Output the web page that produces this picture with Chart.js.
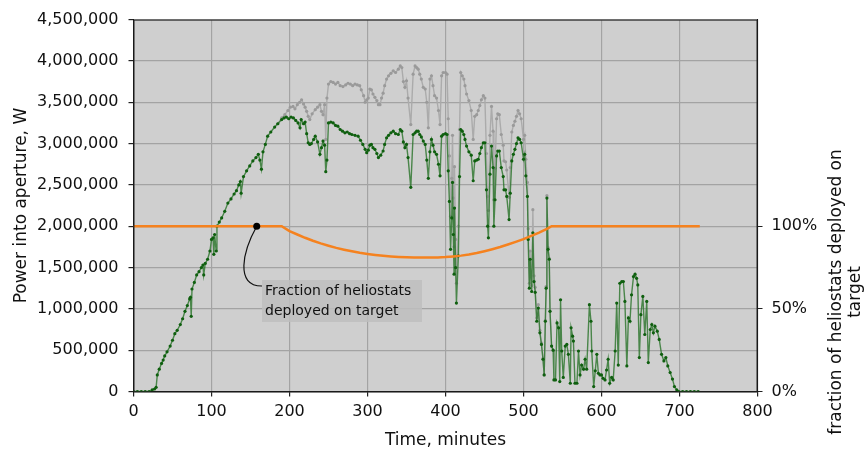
<!DOCTYPE html>
<html>
<head>
<meta charset="utf-8">
<script src="https://cdn.jsdelivr.net/npm/chart.js@4.4.1/dist/chart.umd.min.js"></script>
<style>
  html, body { margin: 0; padding: 0; background: #fff; }
  #wrap { width: 865px; height: 456px; }
</style>
</head>
<body>
<div id="wrap"><canvas id="chart" width="865" height="456"></canvas></div>
<script>
// Power into aperture (MW) with all heliostats deployed on target, by time (minutes)
const greenTime = [
  0, 5, 10, 15, 20, 24, 27, 29, 30.5, 33,
  36, 38, 40, 43, 47, 50, 53, 56, 60, 63,
  66, 69, 72, 73, 74, 75, 78, 81, 84, 87,
  89, 90, 92, 95, 98, 100, 102, 103, 104, 106,
  107, 110, 113, 117, 121, 125, 129, 132, 135, 137,
  138, 141, 145, 149, 153, 157, 160, 162, 164, 166,
  169, 172, 176, 181, 185, 190, 193, 196, 199, 202,
  205, 208, 211, 213.5, 215, 218, 220, 222, 224, 226,
  228, 231, 233, 236, 239, 241, 243, 245, 246.5, 248,
  250, 253, 256, 259, 262, 265, 268, 271, 274, 277,
  280, 284, 288, 291, 294, 297, 299, 301, 303, 305,
  307, 309.5, 312, 314, 317, 320, 322, 324.5, 327, 330,
  333, 336, 339.5, 342, 344, 346, 348, 350, 352, 355.5,
  358.5, 361, 363, 365, 367, 369, 371.5, 374, 376, 378,
  380, 382, 384, 386, 388.5, 391, 393, 395, 397, 400,
  402, 403.5, 405, 406.5, 408, 409, 410, 411, 411.5, 413,
  414, 416.5, 418, 419.5, 421.5, 423.5, 425, 427, 430, 433,
  435.5, 437.5, 440, 442, 444, 446, 448.5, 450.5, 452.5, 454,
  455, 457, 459, 461, 462, 463.5, 465.5, 467, 469, 471.5,
  474, 475, 477, 478.5, 481.5, 483, 485, 487, 489, 491,
  493, 495, 497, 500, 501.5, 503, 505, 506, 507.5, 508.5,
  510.5, 512, 513.5, 515, 517, 519, 521, 523, 525, 526.5,
  528, 529, 530, 531.5, 533, 534, 536, 538, 539, 541,
  543, 545, 546.5, 547.5, 549, 551, 553.5, 555.5, 557.5, 560,
  561, 563, 564, 566, 568.5, 570.5, 572.5, 574.5, 577, 579,
  581, 584.5, 586.5, 587.5, 590, 592, 594, 596, 598, 600,
  602, 604.5, 606.5, 608.5, 610.5, 613, 615, 617.5, 619.5, 621.5,
  623.5, 626, 628, 630, 632.5, 634.5, 636.5, 638.5, 641, 643,
  645, 646.5, 648.5, 650.5, 653, 655.5, 658, 660, 662.5, 664.5,
  666.5, 668.5, 671.5, 674, 677, 680, 682.5, 685, 688, 691,
  693.5, 696.5, 699, 704, 709, 714, 719, 724
];
const greenPower = [
  0, 0, 0, 0, 0, 0.02, 0.03, 0.05, 0.20, 0.27,
  0.34, 0.38, 0.43, 0.48, 0.55, 0.62, 0.70, 0.74, 0.81, 0.88,
  0.97, 1.04, 1.12, 1.14, 0.91, 1.24, 1.32, 1.41, 1.45, 1.50,
  1.53, 1.41, 1.55, 1.60, 1.70, 1.84, 1.86, 1.66, 1.90, 1.70,
  2.00, 2.05, 2.10, 2.18, 2.28, 2.33, 2.39, 2.43, 2.50, 2.54,
  2.40, 2.60, 2.67, 2.73, 2.79, 2.83, 2.87, 2.80, 2.69, 2.90,
  2.99, 3.09, 3.14, 3.20, 3.24, 3.29, 3.31, 3.32, 3.30, 3.32,
  3.31, 3.28, 3.25, 3.19, 3.29, 3.24, 3.26, 3.12, 3.01, 2.99,
  3.00, 3.05, 3.09, 3.02, 2.87, 2.95, 3.03, 2.98, 2.66, 2.80,
  3.25, 3.26, 3.25, 3.22, 3.21, 3.17, 3.15, 3.13, 3.14, 3.12,
  3.11, 3.10, 3.09, 3.04, 2.99, 2.93, 2.89, 2.92, 2.98, 2.99,
  2.95, 2.93, 2.88, 2.83, 2.86, 2.91, 2.99, 3.07, 3.10, 3.13,
  3.15, 3.12, 3.11, 3.17, 3.15, 3.02, 2.95, 2.99, 2.83, 2.47,
  3.11, 3.13, 3.15, 3.15, 3.11, 3.08, 3.03, 2.99, 2.80, 2.58,
  2.90, 3.05, 2.98, 2.90, 2.87, 2.75, 2.61, 3.09, 3.11, 3.12,
  3.11, 2.67, 2.30, 1.72, 2.10, 2.53, 1.90, 1.42, 2.22, 1.50,
  1.07, 1.64, 2.60, 3.17, 3.15, 3.11, 3.05, 2.97, 2.90, 2.86,
  2.55, 2.79, 2.80, 2.81, 2.88, 2.95, 3.01, 3.01, 2.44, 2.00,
  1.86, 2.63, 2.97, 2.71, 2.00, 2.32, 2.85, 2.91, 2.91, 2.71,
  2.60, 2.44, 2.44, 2.36, 2.08, 2.40, 2.79, 2.87, 2.93, 3.00,
  3.07, 3.05, 3.01, 2.81, 2.87, 2.61, 2.36, 1.84, 1.25, 1.60,
  1.21, 1.92, 1.33, 1.20, 0.85, 1.01, 0.71, 0.57, 0.39, 0.20,
  0.85, 1.25, 2.34, 1.72, 1.60, 0.97, 0.55, 0.50, 0.14, 0.14,
  0.83, 0.77, 0.12, 1.11, 0.49, 0.17, 0.55, 0.57, 0.45, 0.10,
  0.77, 0.67, 0.61, 0.10, 0.10, 0.49, 0.20, 0.32, 0.27, 0.39,
  0.27, 1.05, 0.85, 0.49, 0.06, 0.25, 0.45, 0.22, 0.20, 0.20,
  0.16, 0.14, 0.26, 0.39, 0.10, 0.17, 0.14, 0.49, 1.07, 0.32,
  1.31, 1.33, 1.33, 1.09, 0.31, 0.89, 0.85, 1.17, 1.39, 1.42,
  1.37, 1.29, 0.41, 0.93, 1.15, 0.69, 1.09, 0.35, 0.75, 0.81,
  0.71, 0.79, 0.73, 0.63, 0.45, 0.37, 0.41, 0.31, 0.23, 0.15,
  0.06, 0.02, 0, 0, 0, 0, 0, 0
];

// gray trace (higher, while part of the field is off target)
const grayTime = [
  185, 190, 194, 198, 201, 204.5, 207, 210, 213, 215.5,
  218, 220, 222, 224, 226, 229, 233, 236, 239, 241,
  243, 245, 246.5, 248, 250, 253, 256, 259, 262, 265,
  268.5, 272, 275, 278, 281, 284, 287, 290, 292, 295,
  297, 299, 301, 303, 305, 307, 309.5, 312, 314, 316,
  318, 320, 322, 324.5, 327, 330, 333, 336, 339.5, 342,
  344, 346, 348, 350, 352, 355.5, 358.5, 361, 363, 365,
  367, 369, 371.5, 374, 376, 378, 380, 382, 384, 386,
  388.5, 391, 393, 395, 397, 400, 402, 403.5, 405, 406.5,
  408, 409, 410, 411, 411.5, 413, 414, 416.5, 418, 419.5,
  421.5, 423.5, 425, 427, 430, 433, 435.5, 437.5, 440, 442,
  444, 446, 448.5, 450.5, 452.5, 454, 455, 457, 459, 461,
  462, 463.5, 465.5, 467, 469, 471.5, 474, 475, 477, 478.5,
  481.5, 483, 485, 487, 489, 491, 493, 495, 497, 500,
  501.5, 503, 505, 506, 507.5, 508.5, 510.5, 512, 513.5, 515,
  517, 519, 521, 523, 525, 526.5, 528, 529, 530, 531.5,
  533, 534, 536, 538
];
const grayPower = [
  3.24, 3.31, 3.35, 3.40, 3.44, 3.45, 3.42, 3.47, 3.50, 3.53,
  3.48, 3.44, 3.39, 3.33, 3.29, 3.36, 3.41, 3.44, 3.47, 3.39,
  3.35, 3.47, 3.05, 3.55, 3.72, 3.75, 3.74, 3.72, 3.74, 3.70,
  3.69, 3.71, 3.73, 3.72, 3.70, 3.72, 3.71, 3.70, 3.65, 3.58,
  3.50, 3.53, 3.55, 3.66, 3.65, 3.60, 3.56, 3.52, 3.47, 3.47,
  3.55, 3.61, 3.70, 3.78, 3.82, 3.85, 3.88, 3.86, 3.90, 3.94,
  3.92, 3.75, 3.68, 3.76, 3.55, 3.23, 3.84, 3.94, 3.92, 3.90,
  3.84, 3.78, 3.68, 3.66, 3.50, 3.19, 3.78, 3.82, 3.70, 3.58,
  3.55, 3.40, 3.23, 3.82, 3.86, 3.86, 3.84, 3.30, 2.85, 2.12,
  2.58, 3.10, 2.34, 1.75, 2.72, 1.84, 1.31, 2.00, 3.17, 3.86,
  3.82, 3.78, 3.70, 3.60, 3.52, 3.40, 3.05, 3.33, 3.35, 3.40,
  3.46, 3.53, 3.58, 3.55, 2.88, 2.36, 2.19, 3.10, 3.45, 3.15,
  2.32, 2.70, 3.30, 3.36, 3.35, 3.11, 2.98, 2.79, 2.78, 2.68,
  2.35, 2.71, 3.14, 3.22, 3.27, 3.33, 3.40, 3.36, 3.30, 3.05,
  3.10, 2.81, 2.53, 1.97, 1.31, 1.70, 1.28, 2.20, 1.40, 1.26,
  0.89, 1.05, 0.74, 0.59, 0.40, 0.20, 0.86, 1.27, 2.37, 1.74,
  1.61, 0.97, 0.55, 0.50
];

// fraction of heliostats deployed on target
const fracTime = [
  0, 190, 200, 210, 220, 230, 240, 250, 260, 270,
  280, 290, 300, 310, 320, 330, 340, 350, 360, 370,
  380, 390, 400, 410, 420, 430, 440, 450, 460, 470,
  480, 490, 500, 510, 520, 530, 536, 726
];
const fracValue = [
  1, 1, 0.97, 0.95, 0.93, 0.912, 0.896, 0.882, 0.869, 0.858,
  0.848, 0.839, 0.832, 0.826, 0.821, 0.817, 0.814, 0.812, 0.811, 0.81,
  0.81, 0.811, 0.813, 0.817, 0.822, 0.829, 0.838, 0.849, 0.861, 0.874,
  0.889, 0.905, 0.922, 0.941, 0.961, 0.984, 1, 1
];

const xTicks = [0, 100, 200, 300, 400, 500, 600, 700, 800];
const fracTicks = [0, 0.5, 1];
const calloutAt = 158;
const calloutText = ['Fraction of heliostats', 'deployed on target'];
const rightTitle = ['fraction of heliostats deployed on', 'target'];

const FONT = '"DejaVu Sans", Verdana, sans-serif';

function pairs(xs, ys, k) {
  return xs.map((x, i) => ({ x: x, y: ys[i] * k }));
}

// background, frame, callout and right-hand title
const decor = {
  id: 'decor',
  beforeDatasetsDraw(chart) {
    const { ctx, chartArea: a } = chart;
    ctx.save();
    ctx.globalCompositeOperation = 'destination-over';
    ctx.fillStyle = '#cfcfcf';
    ctx.fillRect(a.left, a.top, a.right - a.left, a.bottom - a.top);
    ctx.restore();
  },
  afterDraw(chart) {
    const { ctx, chartArea: a } = chart;
    ctx.save();
    ctx.strokeStyle = '#222';
    ctx.lineWidth = 1;
    ctx.strokeRect(a.left + 0.5, a.top + 0.5, a.right - a.left - 1, a.bottom - a.top);

    // callout
    const px = chart.scales.x.getPixelForValue(calloutAt);
    const py = chart.scales.y2.getPixelForValue(1);
    ctx.fillStyle = 'rgba(190,190,190,0.85)';
    ctx.fillRect(262, 280, 160, 42);
    ctx.strokeStyle = '#111';
    ctx.lineWidth = 1.2;
    ctx.beginPath();
    ctx.moveTo(px, py);
    ctx.bezierCurveTo(px - 14, py + 25, px - 22, py + 60, 262, 286);
    ctx.stroke();
    ctx.fillStyle = '#000';
    ctx.beginPath();
    ctx.arc(px, py, 3.5, 0, Math.PI * 2);
    ctx.fill();
    ctx.font = '14px ' + FONT;
    ctx.fillStyle = '#111';
    ctx.textAlign = 'left';
    ctx.textBaseline = 'middle';
    ctx.fillText(calloutText[0], 265, 291);
    ctx.fillText(calloutText[1], 265, 311);

    // right axis title, reading bottom to top
    ctx.translate(837, 292);
    ctx.rotate(-Math.PI / 2);
    ctx.font = '17px ' + FONT;
    ctx.textAlign = 'center';
    ctx.fillText(rightTitle[0], 0, 0);
    ctx.fillText(rightTitle[1], 0, 19);
    ctx.restore();
  }
};

const tickFont = { family: FONT, size: 16 };

new Chart(document.getElementById('chart'), {
  type: 'line',
  data: {
    datasets: [
      {
        label: 'Fraction on target',
        data: pairs(fracTime, fracValue, 1),
        yAxisID: 'y2',
        borderColor: '#f5821f',
        borderWidth: 2.5,
        pointRadius: 0,
        tension: 0
      },
      {
        label: 'Power into aperture',
        data: pairs(greenTime, greenPower, 1e6),
        yAxisID: 'y',
        borderColor: 'rgba(40,115,40,0.8)',
        borderWidth: 1.4,
        pointRadius: 1.6,
        pointBorderWidth: 0,
        pointBackgroundColor: '#0f5f0f',
        tension: 0
      },
      {
        label: 'Power, full field',
        data: pairs(grayTime, grayPower, 1e6),
        yAxisID: 'y',
        borderColor: '#ababab',
        borderWidth: 1.4,
        pointRadius: 1.6,
        pointBorderWidth: 0,
        pointBackgroundColor: '#9a9a9a',
        tension: 0
      }
    ]
  },
  options: {
    responsive: false,
    animation: false,
    devicePixelRatio: 1,
    layout: { padding: { top: 13, left: 0, right: 0, bottom: 0 } },
    plugins: { legend: { display: false }, tooltip: { enabled: false } },
    scales: {
      x: {
        type: 'linear',
        min: 0,
        max: 800,
        afterBuildTicks: s => { s.ticks = xTicks.map(v => ({ value: v })); },
        afterFit: s => { s.height = 64.5; },
        grid: { color: '#a3a3a3', lineWidth: 1.2, tickColor: '#222', tickLength: 5 },
        border: { color: '#111', width: 1 },
        ticks: { font: tickFont, color: '#111', padding: 6, maxRotation: 0 },
        title: {
          display: true,
          text: 'Time, minutes',
          font: { family: FONT, size: 17 },
          color: '#111',
          padding: { top: 0, bottom: 5 }
        }
      },
      y: {
        position: 'left',
        min: 0,
        max: 4500000,
        afterFit: s => { s.width = 133.5; },
        grid: { color: '#a3a3a3', lineWidth: 1.2, tickColor: '#222', tickLength: 5 },
        border: { color: '#111', width: 1 },
        ticks: {
          stepSize: 500000,
          font: tickFont,
          color: '#111',
          padding: 10,
          callback: v => v.toLocaleString('en-US')
        },
        title: {
          display: true,
          text: 'Power into aperture, W',
          font: { family: FONT, size: 17 },
          color: '#111',
          padding: { top: 11, bottom: 0 }
        }
      },
      y2: {
        position: 'right',
        min: 0,
        max: 2.25,
        afterBuildTicks: s => { s.ticks = fracTicks.map(v => ({ value: v })); },
        afterFit: s => { s.width = 107.5; },
        grid: { drawOnChartArea: false, tickColor: '#222', tickLength: 5 },
        border: { color: '#111', width: 1 },
        ticks: {
          font: tickFont,
          color: '#111',
          padding: 9,
          callback: v => Math.round(v * 100) + '%'
        }
      }
    }
  },
  plugins: [decor]
});
</script>
</body>
</html>
